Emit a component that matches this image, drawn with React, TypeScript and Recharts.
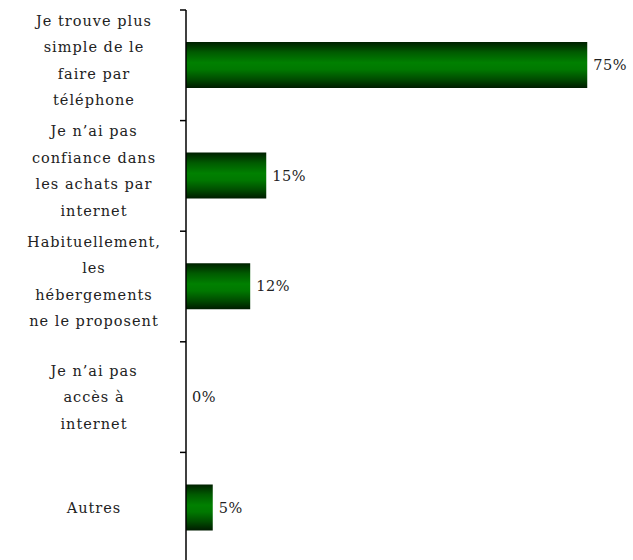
import React from "react"
import { BarChart, Bar, XAxis, YAxis, LabelList } from "recharts"

// Raisons de ne pas réserver en ligne (%)
const categories = [
  "Je trouve plus simple de le faire par téléphone",
  "Je n'ai pas confiance dans les achats par internet",
  "Habituellement, les hébergements ne le proposent",
  "Je n'ai pas accès à internet",
  "Autres",
]
// how each label wraps in the picture
const labelLines = [
  ["Je trouve plus", "simple de le", "faire par", "téléphone"],
  ["Je n\u2019ai pas", "confiance dans", "les achats par", "internet"],
  ["Habituellement,", "les", "hébergements", "ne le proposent"],
  ["Je n\u2019ai pas", "accès à", "internet"],
  ["Autres"],
]
const values = [75, 15, 12, 0, 5]

const data = categories.map((c, i) => ({ name: c, value: values[i] }))

const FONT = "'DejaVu Serif', serif"
const LINE_H = 26.5

const CategoryTick = (props: any) => {
  const { x, y, payload, index } = props
  const half = payload && payload.offset ? payload.offset : 55.3
  const lines = labelLines[index] || [String(payload.value)]
  const startY = y - ((lines.length - 1) * LINE_H) / 2 - (lines.length > 3 ? 5 : 0)
  const cx = x - 92
  return (
    <g>
      <line x1={x - 6} x2={x} y1={y - half} y2={y - half} stroke="#000" strokeWidth={1.5} />
      <text
        x={cx}
        y={startY}
        textAnchor="middle"
        dominantBaseline="central"
        fontFamily={FONT}
        fontSize={14.5}
        letterSpacing={1}
        fill="#222"
      >
        {lines.map((l, i) => (
          <tspan key={i} x={cx} y={startY + i * LINE_H}>
            {l}
          </tspan>
        ))}
      </text>
    </g>
  )
}

export default function App() {
  return (
    <div style={{ width: 633, height: 560, overflow: "hidden", background: "#fff" }}>
      <style>{`body{margin:0}`}</style>
      <BarChart
        width={633}
        height={570}
        data={data}
        layout="vertical"
        margin={{ top: 10, right: 19, bottom: 7, left: 1 }}
        barSize={46}
      >
        <defs>
          <linearGradient id="greenBar" x1="0" y1="0" x2="0" y2="1">
            <stop offset="0%" stopColor="#002000" />
            <stop offset="22%" stopColor="#005a00" />
            <stop offset="45%" stopColor="#008000" />
            <stop offset="60%" stopColor="#007800" />
            <stop offset="82%" stopColor="#004a00" />
            <stop offset="100%" stopColor="#001c00" />
          </linearGradient>
        </defs>
        <XAxis type="number" domain={[0, 80]} hide />
        <YAxis
          type="category"
          dataKey="name"
          width={185}
          axisLine={{ stroke: "#000", strokeWidth: 1.5 }}
          tickLine={false}
          tickSize={0}
          tickMargin={0}
          tick={<CategoryTick />}
          interval={0}
        />
        <Bar dataKey="value" fill="url(#greenBar)" minPointSize={0.01} isAnimationActive={false}>
          <LabelList
            dataKey="value"
            position="right"
            offset={6}
            formatter={(v: any) => `${v}%`}
            style={{ fontFamily: FONT, fontSize: 14.5, fill: "#222", letterSpacing: 0.5 }}
          />
        </Bar>
      </BarChart>
    </div>
  )
}
